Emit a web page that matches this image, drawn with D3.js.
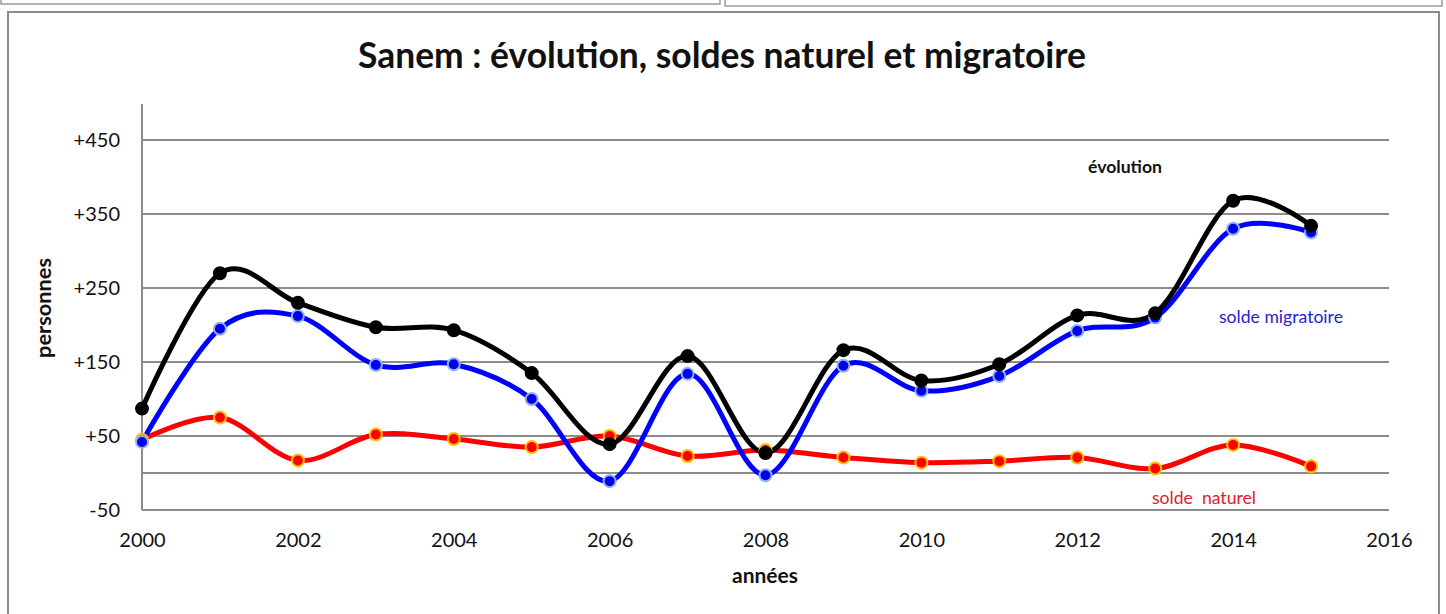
<!DOCTYPE html>
<html>
<head>
<meta charset="utf-8">
<script src="https://cdn.jsdelivr.net/npm/d3@7"></script>
<style>
  body { margin: 0; background: #fff; }
  svg { display: block; font-family: Lato, "Open Sans", sans-serif; }
</style>
</head>
<body>
<svg id="chart" width="1446" height="614"></svg>
<script>
// annees
var years = [2000, 2001, 2002, 2003, 2004, 2005, 2006, 2007, 2008, 2009, 2010, 2011, 2012, 2013, 2014, 2015];
// evolution = solde naturel + solde migratoire
var evolution = [87, 270, 230, 197, 193, 135, 39, 158, 27, 166, 125, 147, 213, 216, 368, 334];
var soldeMigratoire = [42, 195, 212, 146, 147, 100, -11, 134, -3, 145, 111, 131, 192, 210, 330, 325];
var soldeNaturel = [45, 75, 17, 52, 46, 35, 50, 23, 31, 21, 14, 16, 21, 6, 38, 9];
var yTicks = [-50, 50, 150, 250, 350, 450];
var xTicks = [2000, 2002, 2004, 2006, 2008, 2010, 2012, 2014, 2016];

var svg = d3.select('#chart');
var plotLeft = 142, plotRight = 1389, plotTop = 104, plotBottom = 510;

var x = d3.scaleLinear().domain([2000, 2016]).range([plotLeft, plotRight]);
var y = d3.scaleLinear().domain([-50, 500]).range([plotBottom, plotBottom - 550 * 0.74]);

// top boxes (cut off) and chart frame
svg.append('rect').attr('x', 1).attr('y', -10).attr('width', 719).attr('height', 14)
    .attr('fill', 'none').attr('stroke', '#9a9a9a').attr('stroke-width', 1.5);
svg.append('rect').attr('x', 725).attr('y', -10).attr('width', 717).attr('height', 16)
    .attr('fill', 'none').attr('stroke', '#9a9a9a').attr('stroke-width', 1.5);
svg.append('rect').attr('x', 8).attr('y', 12).attr('width', 1431).attr('height', 620)
    .attr('fill', '#fff').attr('stroke', '#8c8c8c').attr('stroke-width', 2);

// grid
svg.append('g').selectAll('line')
    .data(yTicks.slice(1).concat([0]))
    .enter().append('line')
    .attr('x1', plotLeft).attr('x2', plotRight)
    .attr('y1', d => y(d)).attr('y2', d => y(d))
    .attr('stroke', '#8c8c8c').attr('stroke-width', 2);

// axes
var yAxis = svg.append('g')
    .attr('transform', `translate(${plotLeft},0)`)
    .call(d3.axisLeft(y).tickValues(yTicks).tickSize(0).tickPadding(22)
        .tickFormat(d => (d > 0 ? '+' : '') + d));
yAxis.select('.domain').remove();
yAxis.attr('font-family', 'Lato, sans-serif').attr('font-size', 20);
yAxis.selectAll('text').attr('fill', '#111');

var xAxis = svg.append('g')
    .attr('transform', `translate(0,${plotBottom})`)
    .call(d3.axisBottom(x).tickValues(xTicks).tickSize(0).tickPadding(23)
        .tickFormat(d3.format('d')));
xAxis.select('.domain').remove();
xAxis.attr('font-family', 'Lato, sans-serif').attr('font-size', 20);
xAxis.selectAll('text').attr('fill', '#111');

svg.append('line').attr('x1', plotLeft).attr('x2', plotLeft).attr('y1', plotTop).attr('y2', plotBottom)
    .attr('stroke', '#8c8c8c').attr('stroke-width', 2);
svg.append('line').attr('x1', plotLeft).attr('x2', plotRight).attr('y1', plotBottom).attr('y2', plotBottom)
    .attr('stroke', '#8c8c8c').attr('stroke-width', 2);

// series
var series = [
    { values: soldeNaturel, color: '#ff0000', marker: '#ff0000', edge: '#ffc000' },
    { values: soldeMigratoire, color: '#0000ff', marker: '#0000ee', edge: '#8eb4f0' },
    { values: evolution, color: '#000000', marker: '#000000', edge: '#000000' }
];

var line = d3.line()
    .x((d, i) => x(years[i]))
    .y(d => y(d))
    .curve(d3.curveCatmullRom.alpha(0));

series.forEach(function(s) {
    svg.append('path')
        .datum(s.values)
        .attr('d', line)
        .attr('fill', 'none')
        .attr('stroke', s.color)
        .attr('stroke-width', 5)
        .attr('stroke-linejoin', 'round');
});
series.forEach(function(s) {
    svg.append('g').selectAll('circle')
        .data(s.values)
        .enter().append('circle')
        .attr('cx', (d, i) => x(years[i]))
        .attr('cy', d => y(d))
        .attr('r', 6)
        .attr('fill', s.marker)
        .attr('stroke', s.edge)
        .attr('stroke-width', 2);
});

// texts
function fit(sel, w) {
    var len = sel.node().getComputedTextLength();
    var fs = parseFloat(sel.attr('font-size'));
    sel.attr('font-size', fs * w / len);
}

var title = svg.append('text').attr('x', 722).attr('y', 68).attr('text-anchor', 'middle')
    .attr('font-size', 30).attr('font-weight', 'bold').attr('fill', '#111')
    .text('Sanem : évolution, soldes naturel et migratoire');
fit(title, 728);

var xt = svg.append('text').attr('x', 765).attr('y', 583).attr('text-anchor', 'middle')
    .attr('font-size', 18).attr('font-weight', 'bold').attr('fill', '#111').text('années');
fit(xt, 66);

var yt = svg.append('text').attr('transform', 'translate(51,308) rotate(-90)').attr('text-anchor', 'middle')
    .attr('font-size', 18).attr('font-weight', 'bold').attr('fill', '#111').text('personnes');
fit(yt, 100);

var l1 = svg.append('text').attr('x', 1088).attr('y', 173).attr('font-size', 15)
    .attr('font-weight', 'bold').attr('fill', '#111').text('évolution');
fit(l1, 74);
var l2 = svg.append('text').attr('x', 1219).attr('y', 323).attr('font-size', 15)
    .attr('fill', '#2424d0').text('solde migratoire');
fit(l2, 124);
var l3 = svg.append('text').attr('x', 1152).attr('y', 504).attr('font-size', 15)
    .attr('fill', '#e0202a').style('white-space', 'pre').text('solde  naturel');
fit(l3, 104);
</script>
</body>
</html>
